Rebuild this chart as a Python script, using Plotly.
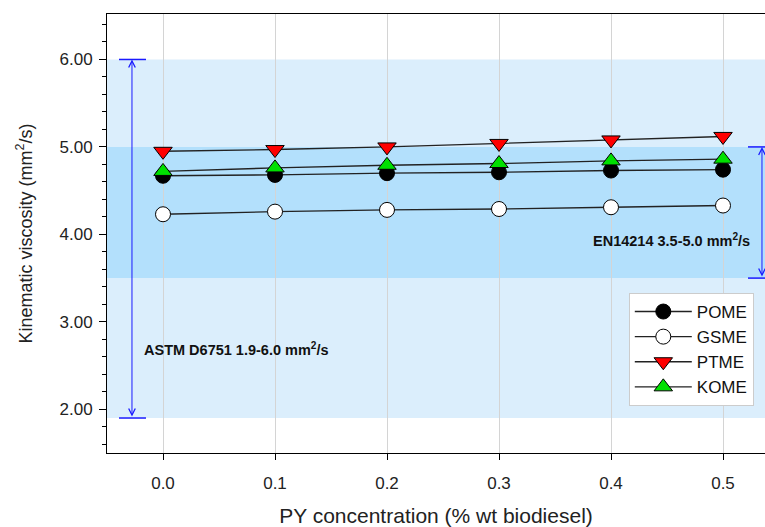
import plotly.graph_objects as go

conc = [0.0, 0.1, 0.2, 0.3, 0.4, 0.5]
pome = [4.67, 4.68, 4.70, 4.71, 4.73, 4.74]
gsme = [4.23, 4.26, 4.28, 4.29, 4.31, 4.33]
ptme = [4.95, 4.97, 5.00, 5.04, 5.08, 5.12]
kome = [4.72, 4.76, 4.79, 4.81, 4.84, 4.86]

astm_range = [1.9, 6.0]
en_range = [3.5, 5.0]

FONT = "Liberation Sans, Arial, sans-serif"
BLUE = "#1a1aff"

fig = go.Figure()

series = [
    ("POME", pome, "circle", "black", 15),
    ("GSME", gsme, "circle", "white", 15),
    ("PTME", ptme, "triangle-down", "#ff0000", 16),
    ("KOME", kome, "triangle-up", "#00e000", 16),
]
for name, vals, sym, col, sz in series:
    fig.add_trace(go.Scatter(
        x=conc, y=vals, name=name, mode="lines+markers",
        line=dict(color="#222222", width=1.4),
        marker=dict(symbol=sym, size=sz, color=col, line=dict(color="black", width=1)),
    ))

shapes = [
    dict(type="rect", xref="paper", yref="y", x0=0, x1=1, y0=astm_range[0], y1=astm_range[1],
         fillcolor="#dbeefc", line=dict(width=0), layer="below"),
    dict(type="rect", xref="paper", yref="y", x0=0, x1=1, y0=en_range[0], y1=en_range[1],
         fillcolor="#b3e0fc", line=dict(width=0), layer="below"),
]
for y in astm_range:
    shapes.append(dict(type="line", xref="x", yref="y", x0=-0.0393, x1=-0.0152, y0=y, y1=y,
                       line=dict(color=BLUE, width=1.5)))
for y in en_range:
    shapes.append(dict(type="line", xref="x", yref="y", x0=0.5223, x1=0.5375, y0=y, y1=y,
                       line=dict(color=BLUE, width=1.5)))

annotations = [
    dict(x=-0.0277, y=astm_range[1], ax=-0.0277, ay=astm_range[0], xref="x", yref="y",
         axref="x", ayref="y", text="", showarrow=True, arrowhead=5, arrowside="end+start",
         arrowsize=1.3, arrowwidth=1, arrowcolor=BLUE, standoff=0, startstandoff=0),
    dict(x=0.5348, y=en_range[1], ax=0.5348, ay=en_range[0], xref="x", yref="y",
         axref="x", ayref="y", text="", showarrow=True, arrowhead=5, arrowside="end+start",
         arrowsize=1.3, arrowwidth=1, arrowcolor=BLUE, standoff=0, startstandoff=0),
    dict(x=-0.0188, y=2.69, xref="x", yref="y", xanchor="left", yanchor="middle",
         text="<b>ASTM D6751 1.9-6.0 mm<sup>2</sup>/s</b>", showarrow=False,
         font=dict(family=FONT, size=14.5, color="#111111")),
    dict(x=0.5259, y=3.94, xref="x", yref="y", xanchor="right", yanchor="middle",
         text="<b>EN14214 3.5-5.0 mm<sup>2</sup>/s</b>", showarrow=False,
         font=dict(family=FONT, size=14.5, color="#111111")),
]

fig.update_layout(
    width=765, height=527,
    margin=dict(l=107, r=0, t=14, b=74),
    paper_bgcolor="white", plot_bgcolor="white",
    font=dict(family=FONT, size=16, color="#222222"),
    shapes=shapes, annotations=annotations,
    legend=dict(x=0.793, y=0.3645, xanchor="left", yanchor="top",
                bgcolor="white", bordercolor="#cccccc", borderwidth=1,
                font=dict(family=FONT, size=17, color="#111111"),
                itemwidth=57, tracegroupgap=2),
    xaxis=dict(
        range=[-0.05, 0.5375], tickmode="array", tickvals=conc, tickformat=".1f",
        showgrid=True, gridcolor="#d4d4d4", gridwidth=1, zeroline=False,
        showline=True, linecolor="black", linewidth=1, mirror=True,
        ticks="outside", ticklen=6, tickcolor="black", ticklabelstandoff=9,
        tickfont=dict(family=FONT, size=17, color="#222222"),
        title=dict(text="PY concentration (% wt biodiesel)", standoff=20,
                   font=dict(family=FONT, size=21, color="#222222")),
    ),
    yaxis=dict(
        range=[1.5, 6.52], dtick=1, tick0=0, tickformat=".2f",
        showgrid=False, zeroline=False,
        showline=True, linecolor="black", linewidth=1,
        ticks="outside", ticklen=7, tickcolor="black", ticklabelstandoff=3,
        minor=dict(dtick=0.2, tick0=0, ticks="outside", ticklen=4, tickcolor="black", showgrid=False),
        tickfont=dict(family=FONT, size=17, color="#222222"),
        title=dict(text="Kinematic viscosity (mm<sup>2</sup>/s)", standoff=22,
                   font=dict(family=FONT, size=18, color="#222222")),
    ),
)

fig.write_html("out.html")
